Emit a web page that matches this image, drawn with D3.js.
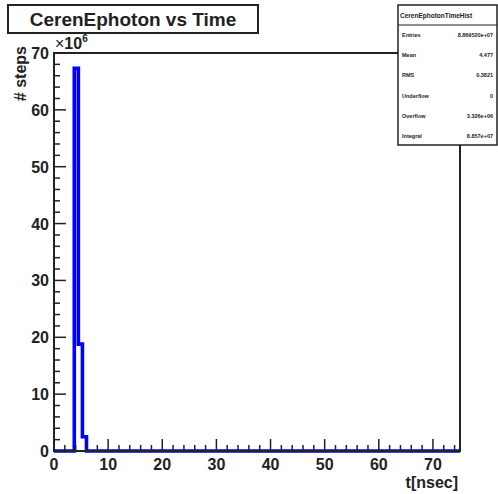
<!DOCTYPE html>
<html>
<head>
<meta charset="utf-8">
<script src="https://cdn.jsdelivr.net/npm/d3@7"></script>
<style>
  body { margin: 0; background: #fff; }
  svg { display: block; font-family: "Liberation Sans", Arial, sans-serif; }
</style>
</head>
<body>
<div id="chart"></div>
<script>
// histogram bins (ns) and counts in units of 10^6
var binStart = [0, 3.75, 4.5, 5.25, 6.0];
var binEnd = [3.75, 4.5, 5.25, 6.0, 75];
var counts = [0, 67.3, 18.8, 2.5, 0];

var xTicks = [0, 10, 20, 30, 40, 50, 60, 70];
var yTicks = [0, 10, 20, 30, 40, 50, 60, 70];

var statLabels = ["Entries", "Mean", "RMS", "Underflow", "Overflow", "Integral"];
var statValues = ["8.869520e+07", "4.477", "0.3821", "0", "3.326e+06", "8.857e+07"];

var W = 498, H = 494;
// plot frame (note: "top" is reserved on window, so use pLeft etc.)
var pLeft = 54, pRight = 460, pTop = 53, pBottom = 451;

var svg = d3.select("#chart").append("svg").attr("width", W).attr("height", H);

var x = d3.scaleLinear().domain([0, 75]).range([pLeft, pRight]);
var y = d3.scaleLinear().domain([0, 70]).range([pBottom, pTop]);

// histogram outline
var pts = [];
for (var i = 0; i < counts.length; i++) {
  pts.push([binStart[i], counts[i]]);
  pts.push([binEnd[i], counts[i]]);
}
var line = d3.line().x(d => x(d[0])).y(d => y(d[1]));
svg.append("path")
  .attr("d", line(pts))
  .attr("fill", "none")
  .attr("stroke", "#0000ff")
  .attr("stroke-width", 3.6);

// frame
svg.append("rect")
  .attr("x", pLeft).attr("y", pTop)
  .attr("width", pRight - pLeft).attr("height", pBottom - pTop)
  .attr("fill", "none").attr("stroke", "#222").attr("stroke-width", 2);

// y axis ticks (pointing inward)
var yMinor = d3.range(0, 70.01, 2);
svg.append("g").selectAll("line").data(yMinor).join("line")
  .attr("x1", pLeft).attr("x2", d => pLeft + (d % 10 === 0 ? 12 : 6))
  .attr("y1", d => y(d)).attr("y2", d => y(d))
  .attr("stroke", "#222").attr("stroke-width", 1.5);
svg.append("g").selectAll("text").data(yTicks).join("text")
  .attr("x", pLeft - 5).attr("y", d => y(d) + 6)
  .attr("text-anchor", "end")
  .attr("font-size", 16).attr("font-weight", "bold").attr("fill", "#222")
  .text(d => d);

// x axis ticks
var xMinor = d3.range(0, 75.01, 2);
svg.append("g").selectAll("line").data(xMinor).join("line")
  .attr("x1", d => x(d)).attr("x2", d => x(d))
  .attr("y1", pBottom).attr("y2", d => pBottom - (d % 10 === 0 ? 12 : 6))
  .attr("stroke", "#222").attr("stroke-width", 1.5);
svg.append("g").selectAll("text").data(xTicks).join("text")
  .attr("x", d => x(d)).attr("y", pBottom + 19)
  .attr("text-anchor", "middle")
  .attr("font-size", 16).attr("font-weight", "bold").attr("fill", "#222")
  .text(d => d);

// exponent
var ex = svg.append("text").attr("x", pLeft + 1).attr("y", pTop - 4)
  .attr("font-size", 16).attr("font-weight", "bold").attr("fill", "#222");
ex.append("tspan").attr("font-weight", "normal").text("\u00d7");
ex.append("tspan").text("10");
ex.append("tspan").attr("dy", -7).attr("font-size", 10).text("6");

// axis titles
svg.append("text")
  .attr("transform", "translate(26,46) rotate(-90)")
  .attr("text-anchor", "end")
  .attr("font-size", 16).attr("font-weight", "bold").attr("fill", "#222")
  .text("# steps");
svg.append("text")
  .attr("x", pRight - 2).attr("y", 488)
  .attr("text-anchor", "end")
  .attr("font-size", 16).attr("font-weight", "bold").attr("fill", "#222")
  .text("t[nsec]");

// title box
svg.append("rect").attr("x", 8).attr("y", 5).attr("width", 250).attr("height", 28)
  .attr("fill", "#fff").attr("stroke", "#222").attr("stroke-width", 2);
svg.append("text").attr("x", 133).attr("y", 26)
  .attr("text-anchor", "middle")
  .attr("font-size", 19).attr("font-weight", "bold").attr("fill", "#222")
  .text("CerenEphoton vs Time");

// stats box
var sx = 398, sy = 5, sw = 99, sh = 140;
svg.append("rect").attr("x", sx).attr("y", sy).attr("width", sw).attr("height", sh)
  .attr("fill", "#fff").attr("stroke", "#222").attr("stroke-width", 1.5);
svg.append("line").attr("x1", sx).attr("x2", sx + sw).attr("y1", 25).attr("y2", 25)
  .attr("stroke", "#222").attr("stroke-width", 1);
svg.append("text").attr("x", sx + 2).attr("y", 18)
  .attr("font-size", 6.5).attr("font-weight", "bold").attr("fill", "#222")
  .text("CerenEphotonTimeHist");
var rows = svg.append("g").selectAll("g").data(statLabels).join("g");
rows.append("text").attr("x", sx + 4).attr("y", (d, i) => 37 + i * 20.2)
  .attr("font-size", 5.5).attr("font-weight", "bold").attr("fill", "#222")
  .text(d => d);
rows.append("text").attr("x", sx + sw - 4).attr("y", (d, i) => 37 + i * 20.2)
  .attr("text-anchor", "end")
  .attr("font-size", 5.5).attr("font-weight", "bold").attr("fill", "#222")
  .text((d, i) => statValues[i]);
</script>
</body>
</html>
